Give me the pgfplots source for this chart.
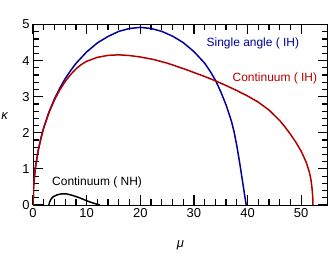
\documentclass[border=0pt]{standalone}
\usepackage{fontspec}
\setmainfont{Liberation Sans}
\usepackage{pgfplots}
\pgfplotsset{compat=1.18}
\definecolor{blueC}{RGB}{0,0,155}
\definecolor{redC}{RGB}{178,0,0}
\begin{document}
\begin{tikzpicture}
\useasboundingbox (-33bp,-54bp) rectangle (299bp,205bp);
\begin{axis}[
  scale only axis, width=295bp, height=180.5bp,
  at={(0,0)}, anchor=south west,
  xmin=0, xmax=55, ymin=0, ymax=5,
  xtick={0,10,20,30,40,50}, ytick={0,1,2,3,4,5},
  minor x tick num=4, minor y tick num=4,
  tick align=inside,
  major tick length=10bp, minor tick length=6bp,
  axis line style={line width=1bp},
  tick style={line width=1.2bp, black},
  /pgf/number format/assume math mode=true,
  tick label style={font=\fontsize{13}{13}\selectfont},
]
\addplot[blueC, line width=1.5bp] coordinates {
(0,0) (0.1,0.49) (0.25,0.77) (0.5,1.09) (1,1.53) (1.5,1.86) (2,2.14) (3,2.58) (4,2.94) (5,3.24) (6,3.50) (7,3.72) (8,3.92)
(10,4.24) (12,4.49) (14,4.67) (16,4.81) (18,4.89) (20,4.92) (22,4.89) (24,4.81)
(26,4.68) (28,4.50) (30,4.25) (32,3.93) (33,3.71) (34,3.46) (35,3.14) (36,2.77) (37,2.32)
(37.5,2.02) (38,1.64) (38.5,1.20) (39,0.72) (39.4,0.33) (39.75,0)
};
\addplot[redC, line width=1.5bp] coordinates {
(0,0) (0.1,0.49) (0.25,0.77) (0.5,1.09) (1,1.53) (1.5,1.86) (2,2.14) (3,2.57) (4,2.91) (5,3.19) (6,3.42)
(7,3.61) (8,3.77) (9,3.89) (10,3.98) (12,4.09) (14,4.145) (16,4.16) (18,4.14) (20,4.10)
(22.5,4.03) (25,3.93) (28,3.78) (30,3.67) (32,3.56) (34,3.44) (36,3.31) (38,3.17)
(40,3.02) (42,2.85) (44,2.63) (46,2.34) (47,2.16) (48,1.96) (49,1.74) (50,1.49) (50.5,1.33) (51,1.16)
(51.5,0.92) (51.8,0.72) (52,0.50) (52.15,0.25) (52.2,0)
};
\addplot[black, line width=1.5bp] coordinates {
(2.95,0) (3.1,0.08) (3.3,0.15) (3.6,0.205) (3.9,0.24) (4.5,0.28) (5,0.30) (5.5,0.31) (6,0.31) (6.5,0.30) (7.5,0.26)
(8.5,0.21) (9.5,0.15) (10.5,0.09) (11.5,0.04) (12.5,0)
};
\node[blueC, font=\fontsize{12}{12}\selectfont] at (axis cs:41.0,4.49) {Single angle ( IH)};
\node[redC, font=\fontsize{12}{12}\selectfont] at (axis cs:45.1,3.51) {Continuum ( IH)};
\node[black, font=\fontsize{12}{12}\selectfont] at (axis cs:11.95,0.63) {Continuum ( NH)};
\end{axis}
\node[font=\fontsize{13}{13}\selectfont\itshape] at (147.5bp,-40bp) {μ};
\node[font=\fontsize{13}{13}\selectfont\itshape] at (-28.5bp,88.5bp) {κ};
\end{tikzpicture}
\end{document}
